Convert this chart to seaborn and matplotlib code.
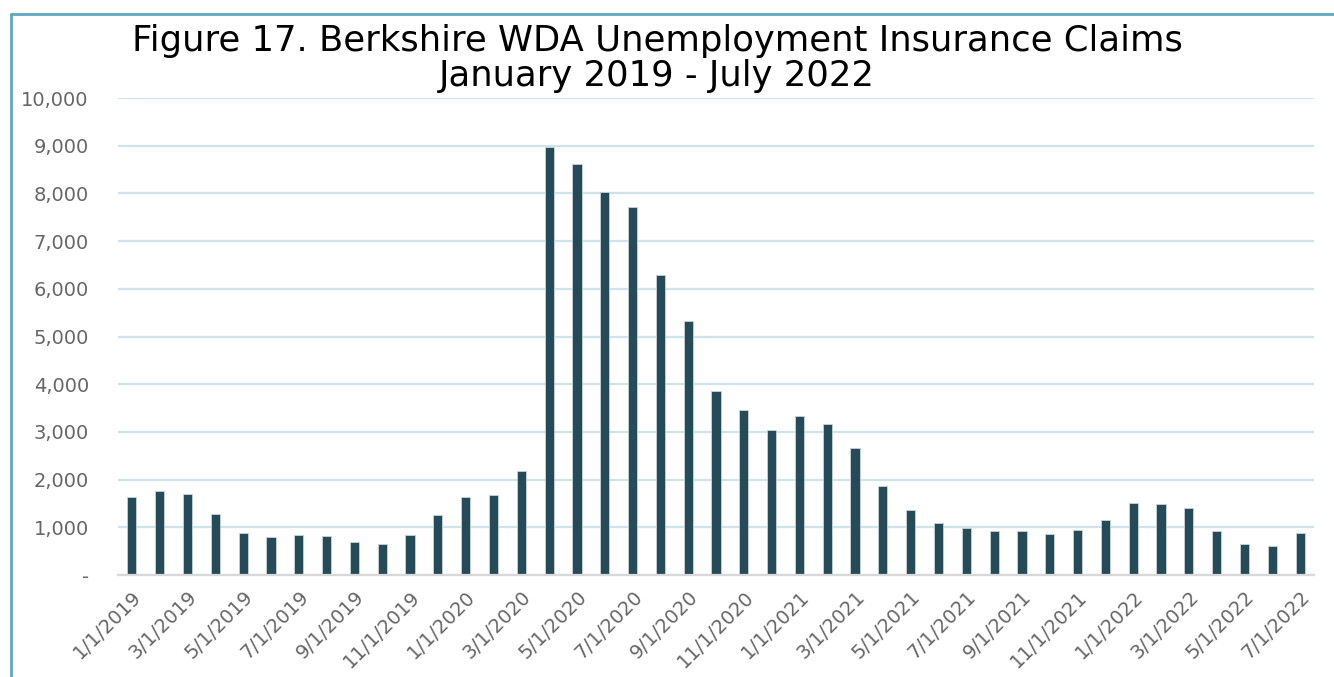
import matplotlib.pyplot as plt
import seaborn as sns
import pandas as pd
from matplotlib.lines import Line2D

months = pd.date_range("2019-01-01", "2022-07-01", freq="MS")
month_labels = [f"{d.month}/1/{d.year}" for d in months]
claims = [1640, 1760, 1700, 1280, 875, 790, 832, 818, 698, 650, 832, 1250,
          1635, 1685, 2180, 8980, 8610, 8030, 7710, 6290, 5325, 3857, 3466, 3033,
          3326, 3166, 2670, 1866, 1363, 1083, 979, 929, 929, 853, 943, 1153,
          1516, 1482, 1405, 922, 657, 601, 887]
yticks = [0, 1000, 2000, 3000, 4000, 5000, 6000, 7000, 8000, 9000, 10000]
ytick_labels = ["-", "1,000", "2,000", "3,000", "4,000", "5,000", "6,000",
                "7,000", "8,000", "9,000", "10,000"]

df = pd.DataFrame({"month": month_labels, "claims": claims})

sns.set_style("white")
plt.rcParams["font.family"] = ["DejaVu Sans"]

fig = plt.figure(figsize=(13.34, 6.77), dpi=100)
ax = fig.add_axes([118 / 1334, 1 - 575 / 677, 1196 / 1334, 477 / 677])

sns.barplot(data=df, x="month", y="claims", color="#254B59", width=0.33,
            saturation=1, edgecolor="#c8d3d8", linewidth=0.6, ax=ax)

ax.set_xlim(-0.5, len(claims) - 0.5)
ax.set_ylim(0, 10000)
ax.set_yticks(yticks)
ax.set_yticklabels(ytick_labels)
ax.set_xticks(range(0, len(claims), 2))
ax.set_xticklabels(month_labels[::2], rotation=45, ha="right",
                   rotation_mode="anchor")
ax.tick_params(axis="both", length=0, labelsize=14, labelcolor="#666666")
ax.tick_params(axis="x", pad=9)
ax.tick_params(axis="y", pad=21)
ax.set_xlabel("")
ax.set_ylabel("")

ax.grid(axis="y", color="#cfe3ea", linewidth=1.6)
ax.set_axisbelow(True)
for s in ["top", "right", "left"]:
    ax.spines[s].set_visible(False)
ax.spines["bottom"].set_color("#d9d9d9")
ax.spines["bottom"].set_linewidth(1.6)

fig.text(0.4925, 1 - 41 / 677, "Figure 17. Berkshire WDA Unemployment Insurance Claims",
         ha="center", va="center", fontsize=25.5, color="black")
fig.text(0.4925, 1 - 76 / 677, "January 2019 - July 2022",
         ha="center", va="center", fontsize=25.5, color="black")

# outer frame (left and top edges)
fig.add_artist(Line2D([11 / 1334, 11 / 1334], [0, 1 - 14 / 677],
                      transform=fig.transFigure, color="#5fa6bf", linewidth=2))
fig.add_artist(Line2D([11 / 1334, 1], [1 - 14 / 677, 1 - 14 / 677],
                      transform=fig.transFigure, color="#5fa6bf", linewidth=2))

fig.savefig("out.png", dpi=100)
